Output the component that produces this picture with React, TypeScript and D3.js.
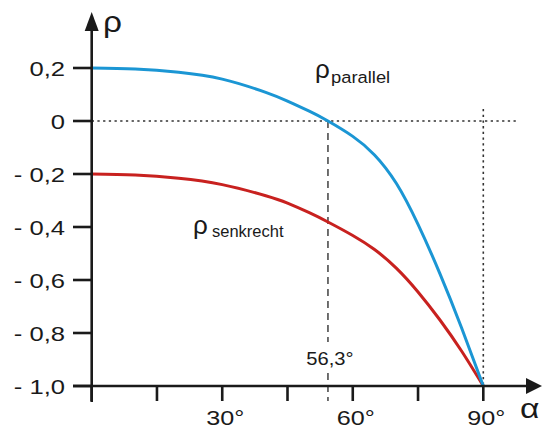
import React from "react";
import { scaleLinear, line, curveNatural } from "d3";

// angle of incidence in degrees
const angles = [0, 10, 20, 30, 40, 45, 50, 54.3, 60, 65, 70, 75, 80, 85, 90];
const rhoParallel = [0.2, 0.196, 0.184, 0.158, 0.108, 0.075, 0.037, 0.0, -0.058, -0.128, -0.235, -0.39, -0.575, -0.78, -1.0];
const rhoSenkrecht = [-0.2, -0.204, -0.216, -0.24, -0.282, -0.31, -0.346, -0.381, -0.432, -0.485, -0.555, -0.645, -0.75, -0.868, -1.0];

const yTicks = [0.2, 0, -0.2, -0.4, -0.6, -0.8, -1.0];
const yTickLabels = ["0,2", "0", "- 0,2", "- 0,4", "- 0,6", "- 0,8", "- 1,0"];
const xTicks = [0, 15, 30, 45, 60, 75, 90];
const xTickLabels = ["", "", "30°", "", "60°", "", "90°"];

const brewsterAngle = 54.3; // where the curve crosses zero in the drawing
const brewsterLabel = "56,3°";

const W = 547;
const H = 428;
const FONT = "'Liberation Sans', Arial, Helvetica, sans-serif";
const BLUE = "#1b96d4";
const RED = "#c8211f";
const INK = "#1a1a1a";

export default function App() {
  const x = scaleLinear().domain([0, 90]).range([91.7, 483.3]);
  const y = scaleLinear().domain([-1, 0.2]).range([386, 68]);

  const pathFor = (vals: number[]) =>
    line<number>()
      .x((_, i) => x(angles[i]))
      .y((d) => y(d))
      .curve(curveNatural)(vals) || "";

  const x0 = x(0);
  const yBase = y(-1);
  const bx = x(brewsterAngle);

  return (
    <svg
      width={W}
      height={H}
      style={{ position: "absolute", left: 0, top: 0, background: "#fff" }}
      fontFamily={FONT}
    >
      {/* guide lines */}
      <line x1={x0} x2={517} y1={y(0)} y2={y(0)} stroke="#333" strokeWidth={1.6} strokeDasharray="2.3 3.4" />
      <line x1={x(90)} x2={x(90)} y1={109} y2={yBase} stroke="#333" strokeWidth={1.6} strokeDasharray="2.3 3.4" />
      <line x1={bx} x2={bx} y1={y(0)} y2={401} stroke="#333" strokeWidth={1.4} strokeDasharray="7 5" />
      <rect x={bx - 26} y={342} width={52} height={28} fill="#fff" />
      <text transform={`translate(${bx + 2},365) scale(1.12,1)`} textAnchor="middle" fontSize={18} fill={INK}>
        {brewsterLabel}
      </text>

      {/* curves */}
      <path d={pathFor(rhoSenkrecht)} fill="none" stroke={RED} strokeWidth={3} />
      <path d={pathFor(rhoParallel)} fill="none" stroke={BLUE} strokeWidth={3} />

      {/* axes */}
      <line x1={x0} x2={x0} y1={402} y2={30} stroke={INK} strokeWidth={2.6} />
      <path d={`M${x0 - 7},31 L${x0},12 L${x0 + 7},31 Z`} fill={INK} />
      <line x1={73} x2={527} y1={yBase} y2={yBase} stroke={INK} strokeWidth={2.6} />
      <path d={`M526,${yBase - 8} L542,${yBase} L526,${yBase + 8} Z`} fill={INK} />

      {yTicks.map((t, i) => (
        <g key={"y" + i}>
          <line x1={73} x2={x0} y1={y(t)} y2={y(t)} stroke={INK} strokeWidth={2.6} />
          <text
            transform={`translate(65,${y(t) + 8}) scale(1.22,1)`}
            textAnchor="end"
            fontSize={21}
            fill={INK}
          >
            {yTickLabels[i]}
          </text>
        </g>
      ))}

      {xTicks.map((t, i) => (
        <g key={"x" + i}>
          <line x1={x(t)} x2={x(t)} y1={yBase} y2={401} stroke={INK} strokeWidth={2.6} />
          {xTickLabels[i] && (
            <text
              transform={`translate(${x(t) + 3},425) scale(1.2,1)`}
              textAnchor="middle"
              fontSize={21}
              fill={INK}
            >
              {xTickLabels[i]}
            </text>
          )}
        </g>
      ))}

      {/* axis titles */}
      <text transform="translate(103,32) scale(1.15,1)" fontSize={29} fill={INK}>ρ</text>
      <text transform="translate(520,418) scale(1.2,1)" fontSize={28} fill={INK}>α</text>

      {/* curve labels */}
      <text x={315} y={78} fontSize={26} fill={INK}>ρ</text>
      <text transform="translate(331,83) scale(1.08,1)" fontSize={17} fill={INK}>parallel</text>
      <text x={193} y={234} fontSize={26} fill={INK}>ρ</text>
      <text x={212} y={237} fontSize={16.5} fill={INK}>senkrecht</text>
    </svg>
  );
}
